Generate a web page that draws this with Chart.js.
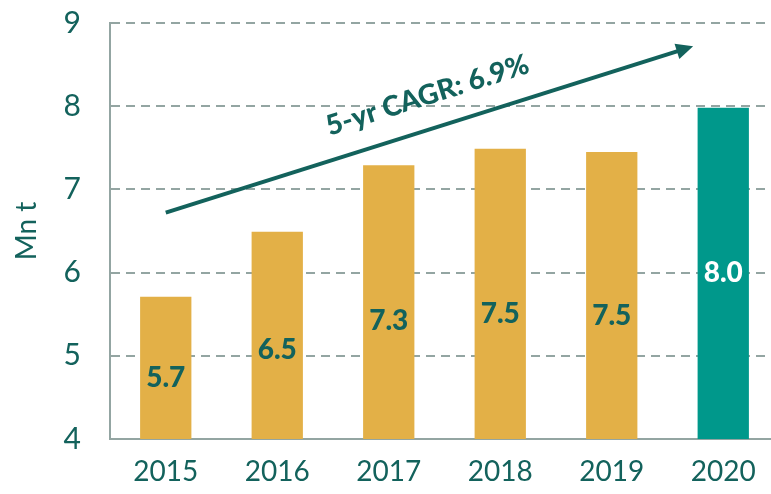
<!DOCTYPE html>
<html>
<head>
<meta charset="utf-8">
<script src="https://cdn.jsdelivr.net/npm/chart.js@4"></script>
<style>
  html, body { margin: 0; padding: 0; background: #fff; overflow: hidden; }
  #wrap { width: 779px; height: 494px; position: relative; }
</style>
</head>
<body>
<div id="wrap"><canvas id="chart"></canvas></div>
<script>
const years = ['2015', '2016', '2017', '2018', '2019', '2020'];
const volumes = [5.71, 6.49, 7.29, 7.49, 7.45, 7.98];
const valueLabels = ['5.7', '6.5', '7.3', '7.5', '7.5', '8.0'];
const barColors = ['#E3B047', '#E3B047', '#E3B047', '#E3B047', '#E3B047', '#00988B'];
const labelColors = ['#13625C', '#13625C', '#13625C', '#13625C', '#13625C', '#FFFFFF'];
const cagrText = '5-yr CAGR: 6.9%';
// arrow ends in data units (category index, Mn t)
const arrowFrom = [0, 6.72];
const arrowTo = [4.73, 8.72];

const teal = '#13625C';
const gridGrey = '#93A5A2';
const font = 'Lato, "Open Sans", sans-serif';

// draw the value labels inside the bars
const barLabels = {
  id: 'barLabels',
  afterDatasetsDraw(chart) {
    const ctx = chart.ctx;
    const meta = chart.getDatasetMeta(0);
    const y = chart.scales.y;
    ctx.save();
    ctx.font = '900 28px ' + font;
    ctx.textAlign = 'center';
    ctx.textBaseline = 'middle';
    meta.data.forEach((bar, i) => {
      const v = volumes[i];
      const pos = i === 5 ? y.getPixelForValue(4 + (v - 4) * 0.5) : y.getPixelForValue(4 + (v - 4) * 0.43);
      ctx.fillStyle = labelColors[i];
      ctx.fillText(valueLabels[i], bar.x, pos);
    });
    ctx.restore();
  }
};

// CAGR arrow and its text
const cagrArrow = {
  id: 'cagrArrow',
  afterDatasetsDraw(chart) {
    const ctx = chart.ctx;
    const xs = chart.scales.x, ys = chart.scales.y;
    const x0 = xs.getPixelForValue(arrowFrom[0]), y0 = ys.getPixelForValue(arrowFrom[1]);
    const x1 = xs.getPixelForValue(arrowTo[0]), y1 = ys.getPixelForValue(arrowTo[1]);
    const ang = Math.atan2(y1 - y0, x1 - x0);
    ctx.save();
    ctx.strokeStyle = teal;
    ctx.fillStyle = teal;
    ctx.lineWidth = 4;
    ctx.beginPath();
    ctx.moveTo(x0, y0);
    ctx.lineTo(x1 - 12 * Math.cos(ang), y1 - 12 * Math.sin(ang));
    ctx.stroke();
    // head
    ctx.translate(x1, y1);
    ctx.rotate(ang);
    ctx.beginPath();
    ctx.moveTo(0, 0);
    ctx.lineTo(-17, -8);
    ctx.lineTo(-17, 8);
    ctx.closePath();
    ctx.fill();
    ctx.restore();

    // text above the arrow
    ctx.save();
    const mx = x0 + (x1 - x0) * 0.5, my = y0 + (y1 - y0) * 0.5;
    ctx.translate(mx - 2, my - 34);
    ctx.rotate(ang);
    ctx.font = '900 28px ' + font;
    ctx.fillStyle = teal;
    ctx.textAlign = 'center';
    ctx.textBaseline = 'middle';
    ctx.fillText(cagrText, 0, 0);
    ctx.restore();
  }
};

new Chart(document.getElementById('chart'), {
  type: 'bar',
  data: {
    labels: years,
    datasets: [{
      data: volumes,
      backgroundColor: barColors,
      borderWidth: 0,
      barPercentage: 0.92,
      categoryPercentage: 0.5
    }]
  },
  options: {
    responsive: true,
    maintainAspectRatio: false,
    animation: false,
    layout: { padding: { top: 23, left: 0, right: 0, bottom: 0 } },
    plugins: { legend: { display: false }, tooltip: { enabled: false } },
    scales: {
      x: {
        grid: { display: false },
        border: { display: true, color: gridGrey, width: 2 },
        ticks: { color: teal, font: { family: font, size: 28 }, padding: 8 },
        afterFit: s => { s.height = 55; s.paddingLeft = 0; s.paddingRight = 0; }
      },
      y: {
        min: 4,
        max: 9,
        ticks: { stepSize: 1, color: teal, font: { family: font, size: 30 }, padding: 29 },
        grid: { color: gridGrey, lineWidth: 2, drawTicks: false },
        border: { display: true, color: gridGrey, width: 2, dash: [9, 6] },
        title: { display: true, text: 'Mn t', color: teal, font: { family: font, size: 28 }, padding: { top: 10, bottom: 0 } },
        afterFit: s => { s.width = 110; s.paddingTop = 0; s.paddingBottom = 0; }
      }
    }
  },
  plugins: [barLabels, cagrArrow]
});
</script>
</body>
</html>
